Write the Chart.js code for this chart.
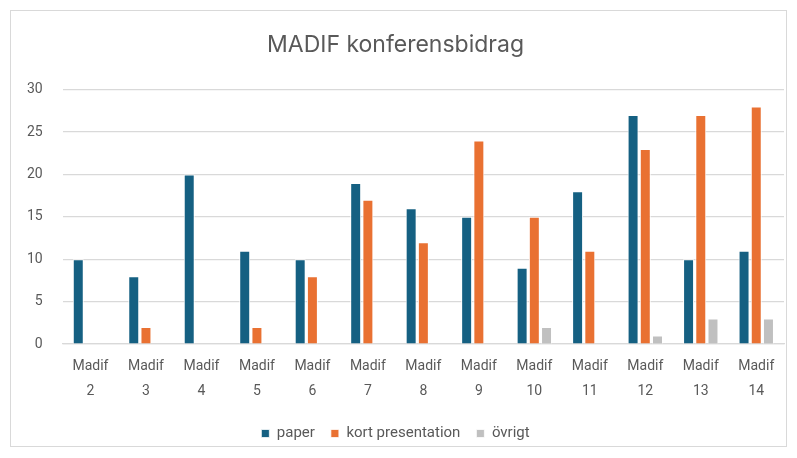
<!DOCTYPE html>
<html>
<head>
<meta charset="utf-8">
<script src="https://cdn.jsdelivr.net/npm/chart.js@4/dist/chart.umd.min.js"></script>
<style>
  html, body { margin: 0; padding: 0; background: #fff; }
  #frame {
    position: absolute; left: 10px; top: 10px;
    width: 777px; height: 437px;
    border: 1px solid #d9d9d9; box-sizing: border-box;
  }
  canvas { display: block; }
</style>
</head>
<body>
<div id="frame"><canvas id="chart" width="775" height="435"></canvas></div>
<script>
const categories = ["2", "3", "4", "5", "6", "7", "8", "9", "10", "11", "12", "13", "14"];
const paper = [10, 8, 20, 11, 10, 19, 16, 15, 9, 18, 27, 10, 11];
const kortPresentation = [0, 2, 0, 2, 8, 17, 12, 24, 15, 11, 23, 27, 28];
const ovrigt = [0, 0, 0, 0, 0, 0, 0, 0, 2, 0, 1, 3, 3];
const yTicks = [0, 5, 10, 15, 20, 25, 30];

const textColor = "#595959";
const gridColor = "#d9d9d9";

function series(label, data, color) {
  return {
    label,
    data,
    backgroundColor: color,
    borderColor: "#ffffff",
    borderWidth: { left: 1, right: 1, top: 1, bottom: 0 },
    barPercentage: 0.9,
    categoryPercentage: 0.66,
  };
}

new Chart(document.querySelector("#chart"), {
  type: "bar",
  data: {
    labels: categories.map((n) => ["Madif", n]),
    datasets: [
      series("paper", paper, "#156082"),
      series("kort presentation", kortPresentation, "#e97132"),
      series("övrigt", ovrigt, "#c0c0c0"),
    ],
  },
  options: {
    responsive: false,
    animation: false,
    layout: { padding: { left: -4, right: 2, top: 8, bottom: -5 } },
    scales: {
      y: {
        min: 0,
        max: 30,
        afterBuildTicks: (axis) => {
          axis.ticks = yTicks.map((value) => ({ value }));
        },
        ticks: { color: textColor, font: { family: "Roboto", size: 14 }, padding: 20 },
        grid: { color: gridColor, lineWidth: 1.2, drawTicks: false },
        border: { display: false },
      },
      x: {
        afterFit: (axis) => {
          axis.height = 66;
        },
        ticks: {
          color: textColor,
          font: { family: "Roboto", size: 14, lineHeight: 1.8 },
          maxRotation: 0,
          autoSkip: false,
          padding: 10,
        },
        grid: { display: false, drawTicks: false },
        border: { color: gridColor, width: 1.2 },
      },
    },
    plugins: {
      title: {
        display: true,
        text: "MADIF konferensbidrag",
        color: textColor,
        font: { family: "Inter", size: 23, weight: "normal" },
        padding: { top: 12, bottom: 31 },
      },
      legend: {
        position: "bottom",
        labels: {
          color: textColor,
          font: { family: "Roboto", size: 15 },
          boxWidth: 8,
          boxHeight: 8,
          padding: 16,
        },
      },
      tooltip: { enabled: false },
    },
  },
});
</script>
</body>
</html>
